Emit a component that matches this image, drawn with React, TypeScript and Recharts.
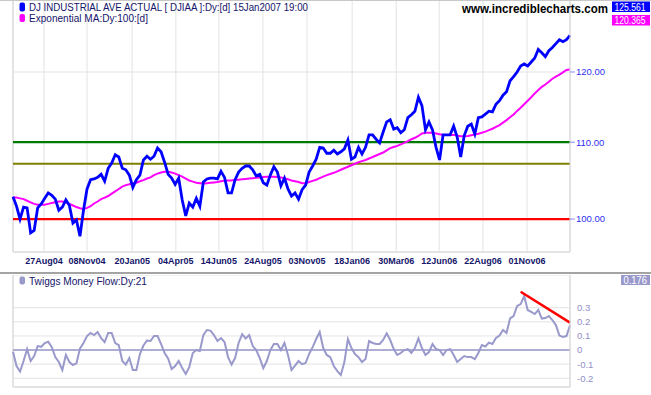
import React from 'react';
import { LineChart, Line, XAxis, YAxis, CartesianGrid, ReferenceLine } from 'recharts';

const FONT = '"Liberation Sans", Arial, sans-serif';

// x positions (sample index, one sample ~4 trading days) of the date gridlines
const tickIdx = [8.8, 21.0, 33.8, 46.2, 58.4, 70.9, 83.4, 96.2, 108.7, 120.9, 133.3, 145.8];
const tickLabels = ['27Aug04', '08Nov04', '20Jan05', '04Apr05', '14Jun05', '24Aug05', '03Nov05', '18Jan06', '30Mar06', '12Jun06', '22Aug06', '01Nov06'];

const priceTicks = [100, 110, 120];
const mfTicks = [-0.2, -0.1, 0, 0.1, 0.2, 0.3];

const djia = [
  102.8, 101.6, 100.0, 101.5, 101.4, 98.3, 98.6, 101.4, 101.9, 102.6,
  103.3, 103.0, 102.5, 101.1, 101.5, 102.4, 101.7, 99.5, 99.9, 97.9,
  101.1, 103.8, 105.0, 105.1, 105.3, 105.7, 104.8, 106.5, 107.2, 108.3,
  108.0, 106.5, 106.3, 105.6, 104.0, 105.0, 105.6, 107.6, 108.1, 107.7,
  108.1, 109.2, 108.7, 107.3, 105.7, 105.2, 104.4, 105.2, 102.4, 100.4,
  102.0, 101.5, 102.6, 101.6, 104.7, 105.1, 105.2, 105.2, 105.1, 106.1,
  105.3, 103.3, 103.3, 105.0, 106.0, 106.5, 106.8, 106.8, 106.3, 105.5,
  105.7, 104.6, 104.3, 105.6, 106.7, 106.0, 104.2, 105.2, 103.8, 102.9,
  103.3, 102.5, 103.7, 104.3, 106.0, 106.8, 107.7, 109.3, 109.2, 108.5,
  108.5, 108.9, 108.4, 108.7, 109.1, 110.3, 107.7, 108.0, 109.3, 108.4,
  109.3, 111.0, 111.0, 110.4, 109.9, 111.4, 112.8, 113.1, 111.8, 112.0,
  111.3, 111.7, 113.4, 113.8, 114.3, 116.3, 115.1, 111.7, 112.8, 111.7,
  109.3, 107.6, 111.0, 111.0, 111.0, 112.2, 110.7, 108.0, 110.9, 112.2,
  112.5, 111.1, 113.4, 113.5, 113.9, 114.3, 114.2, 115.3, 115.8, 116.6,
  117.1, 118.7, 119.3, 120.0, 120.9, 121.2, 120.9, 121.5, 122.1, 123.4,
  122.9, 122.3, 123.2, 123.7, 124.3, 124.9, 124.6, 124.9, 125.56,
];

const ema100 = [
  102.7, 102.7, 102.6, 102.5, 102.3, 102.1, 101.9, 101.8, 101.8, 101.8,
  101.9, 102.0, 102.1, 102.2, 102.2, 102.1, 101.9, 101.7, 101.5, 101.35,
  101.25, 101.4, 101.6, 101.95, 102.2, 102.5, 102.7, 102.9, 103.2, 103.5,
  103.8, 104.1, 104.3, 104.4, 104.5, 104.6, 104.8, 104.95, 105.15, 105.3,
  105.6, 105.8, 105.95, 106.05, 106.05, 105.95, 105.8, 105.6, 105.4, 105.15,
  104.9, 104.75, 104.6, 104.55, 104.5, 104.55, 104.6, 104.65, 104.7, 104.8,
  104.85, 104.9, 104.9, 105.0, 105.0, 105.05, 105.1, 105.15, 105.2, 105.25,
  105.3, 105.35, 105.4, 105.4, 105.4, 105.35, 105.3, 105.15, 105.05, 104.9,
  104.8, 104.7, 104.55, 104.55, 104.7, 104.85, 105.0, 105.2, 105.4, 105.6,
  105.75, 105.9, 106.1, 106.3, 106.5, 106.7, 106.9, 107.1, 107.3, 107.45,
  107.6, 107.8, 108.0, 108.2, 108.4, 108.6, 108.9, 109.2, 109.35, 109.5,
  109.7, 109.9, 110.15, 110.4, 110.6, 110.85, 111.2, 111.3, 111.3, 111.3,
  111.2, 111.1, 111.0, 111.0, 111.0, 111.0, 110.9, 110.8, 110.8, 110.85,
  110.95, 111.05, 111.15, 111.3, 111.45, 111.65, 111.85, 112.1, 112.35, 112.7,
  113.05, 113.45, 113.85, 114.35, 114.8, 115.3, 115.8, 116.3, 116.85, 117.35,
  117.8, 118.15, 118.55, 119.0, 119.3, 119.6, 119.95, 120.3, 120.365,
];

const moneyFlow = [
  -0.012, -0.113, -0.152, -0.078, 0.007, -0.078, -0.043, 0.028, 0.023, 0.05,
  0.059, 0.021, -0.05, -0.085, -0.142, -0.035, -0.085, -0.106, -0.094, 0.012,
  0.05, 0.099, 0.121, 0.106, 0.128, 0.085, 0.057, 0.121, 0.121, 0.05,
  0.035, -0.078, -0.103, -0.057, -0.142, -0.142, -0.028, 0.032, 0.067, 0.064,
  0.099, 0.099, 0.043, -0.021, -0.06, -0.135, -0.113, -0.078, -0.128, -0.17,
  -0.121, -0.021, 0.0, -0.007, 0.106, 0.142, 0.138, 0.106, 0.064, 0.085,
  0.057, -0.05, -0.103, -0.057, 0.05, 0.113, 0.082, 0.106, 0.028, 0.0,
  -0.057, -0.128, -0.078, 0.0, 0.043, 0.043, 0.0, 0.05, -0.035, -0.142,
  -0.11, -0.078, -0.1, -0.092, -0.028, 0.021, 0.078, 0.128, 0.014, -0.035,
  -0.05, -0.113, -0.149, -0.177, -0.085, 0.078, 0.014, -0.028, -0.05, -0.085,
  -0.064, 0.064, 0.05, 0.043, 0.043, 0.071, 0.118, 0.071, 0.007, -0.035,
  -0.021, 0.0, 0.007, -0.021, 0.014, 0.083, 0.014, -0.035, -0.014, 0.043,
  0.007, 0.0, -0.035, 0.0, 0.007, -0.035, -0.085, -0.064, -0.043, -0.05,
  -0.05, -0.064, -0.021, 0.035, 0.025, 0.053, 0.043, 0.085, 0.103, 0.142,
  0.121, 0.225, 0.241, 0.312, 0.326, 0.383, 0.284, 0.27, 0.255, 0.284,
  0.223, 0.227, 0.241, 0.213, 0.177, 0.103, 0.092, 0.099, 0.176,
];

// horizontal levels drawn on the price panel
const resistance = 110;
const midLevel = 107.1;
const support = 100;

// falling trendline on the money flow peaks
const mfTrend = [
  { x: 144, y: 0.413 },
  { x: 158, y: 0.194 },
];

const priceData = djia.map((v, i) => ({ i, dj: v, ema: ema100[i] }));
const mfData = moneyFlow.map((v, i) => ({ i, mf: v }));

const dateLabel = (v: number) => {
  const k = tickIdx.indexOf(v);
  return k >= 0 ? tickLabels[k] : '';
};

const gridColor = '#e3e3e3';
const borderColor = '#d6d6d6';
const navy = '#14146a';
const mfColor = '#9999cc';

export default function App() {
  return (
    <div style={{ position: 'absolute', left: 0, top: 0, width: 651, height: 395, overflow: 'hidden', background: '#fff' }}>
      <div style={{ position: 'absolute', left: 0, top: 0 }}>
        <LineChart width={651} height={272} data={priceData} margin={{ top: 0, right: 0, bottom: 0, left: 13 }}>
          <CartesianGrid stroke={gridColor} />
          <ReferenceLine x={0} stroke={borderColor} />
          <ReferenceLine y={resistance} stroke="#007a00" strokeWidth={2.2} />
          <ReferenceLine y={midLevel} stroke="#808000" strokeWidth={2.2} />
          <ReferenceLine y={support} stroke="#ff0000" strokeWidth={2.2} />
          <XAxis
            dataKey="i"
            type="number"
            domain={[0, 158]}
            ticks={tickIdx}
            interval={0}
            tickFormatter={dateLabel}
            height={20}
            axisLine={{ stroke: borderColor }}
            tickLine={false}
            tickSize={4}
            tickMargin={2}
            tick={{ fill: navy, fontSize: 9, fontWeight: 'bold', fontFamily: FONT }}
          />
          <YAxis
            orientation="right"
            scale="log"
            domain={[96, 131.2]}
            ticks={priceTicks}
            interval={0}
            width={81}
            tickFormatter={(v: number) => v.toFixed(2)}
            axisLine={{ stroke: borderColor }}
            tickLine={{ stroke: '#8c8cff' }}
            tickSize={5}
            tickMargin={1}
            tick={{ fill: '#3030f0', fontSize: 9.5, fontFamily: FONT }}
            allowDataOverflow
          />
          <Line dataKey="ema" stroke="#ff00ff" strokeWidth={2} dot={false} isAnimationActive={false} />
          <Line dataKey="dj" stroke="#0000ff" strokeWidth={2.8} dot={false} isAnimationActive={false} />
        </LineChart>
      </div>

      <div style={{ position: 'absolute', left: 0, top: 272, width: 651, height: 2, background: '#a4a4a4' }} />
      <div style={{ position: 'absolute', left: 0, top: 0, width: 651, height: 1, background: '#c8c8c8' }} />

      <div style={{ position: 'absolute', left: 0, top: 275 }}>
        <LineChart width={651} height={120} data={mfData} margin={{ top: 0, right: 0, bottom: 7, left: 13 }}>
          <CartesianGrid stroke={gridColor} />
          <ReferenceLine x={0} stroke={borderColor} />
          <ReferenceLine y={0} stroke={mfColor} strokeWidth={1.5} />
          <XAxis
            dataKey="i"
            type="number"
            domain={[0, 158]}
            ticks={tickIdx}
            interval={0}
            height={1}
            tick={false}
            tickLine={false}
            axisLine={{ stroke: borderColor }}
          />
          <YAxis
            orientation="right"
            domain={[-0.262, 0.532]}
            ticks={mfTicks}
            interval={0}
            width={81}
            tickFormatter={(v: number) => (v === 0 ? '0' : v.toFixed(1))}
            axisLine={{ stroke: borderColor }}
            tickLine={false}
            tickSize={4}
            tickMargin={3}
            tick={{ fill: '#8f8fc6', fontSize: 9.5, fontFamily: FONT }}
            allowDataOverflow
          />
          <Line dataKey="mf" stroke={mfColor} strokeWidth={2} dot={false} isAnimationActive={false} />
          <ReferenceLine segment={mfTrend} stroke="#ff0000" strokeWidth={2.5} />
        </LineChart>
      </div>

      <svg width={651} height={395} style={{ position: 'absolute', left: 0, top: 0, pointerEvents: 'none' }}>
        <rect x={19.5} y={2.5} width={5.5} height={9} rx={2} fill="#0000ff" />
        <text x={29} y={11} fontSize={10} fontFamily={FONT} fill={navy} textLength={279} lengthAdjust="spacingAndGlyphs">
          DJ INDUSTRIAL AVE ACTUAL [ DJIAA ]:Dy:[d]  15Jan2007 19:00
        </text>
        <rect x={19.5} y={14} width={5.5} height={8} rx={2} fill="#ff00ff" />
        <text x={29} y={22} fontSize={10} fontFamily={FONT} fill={navy} textLength={119} lengthAdjust="spacingAndGlyphs">
          Exponential MA:Dy:100:[d]
        </text>
        <text x={462} y={12.5} fontSize={12} fontWeight="bold" fontFamily={FONT} fill="#000" textLength={146} lengthAdjust="spacingAndGlyphs">
          www.incrediblecharts.com
        </text>
        <rect x={612} y={1.5} width={38} height={10.5} fill="#0000ff" />
        <text x={614.5} y={10.5} fontSize={10} fontFamily={FONT} fill="#fff" textLength={31} lengthAdjust="spacingAndGlyphs">125.561</text>
        <rect x={612} y={15} width={38} height={10.5} fill="#ff00ff" />
        <text x={614.5} y={24} fontSize={10} fontFamily={FONT} fill="#fff" textLength={31} lengthAdjust="spacingAndGlyphs">120.365</text>

        <rect x={19.5} y={276.5} width={5.5} height={8} rx={2} fill={mfColor} />
        <text x={29} y={284.5} fontSize={10} fontFamily={FONT} fill={navy} textLength={118} lengthAdjust="spacingAndGlyphs">
          Twiggs Money Flow:Dy:21
        </text>
        <rect x={621} y={275} width={29} height={10} fill={mfColor} />
        <text x={623.5} y={283.5} fontSize={10} fontFamily={FONT} fill="#fff" textLength={23.5} lengthAdjust="spacingAndGlyphs">0.176</text>
      </svg>
    </div>
  );
}
